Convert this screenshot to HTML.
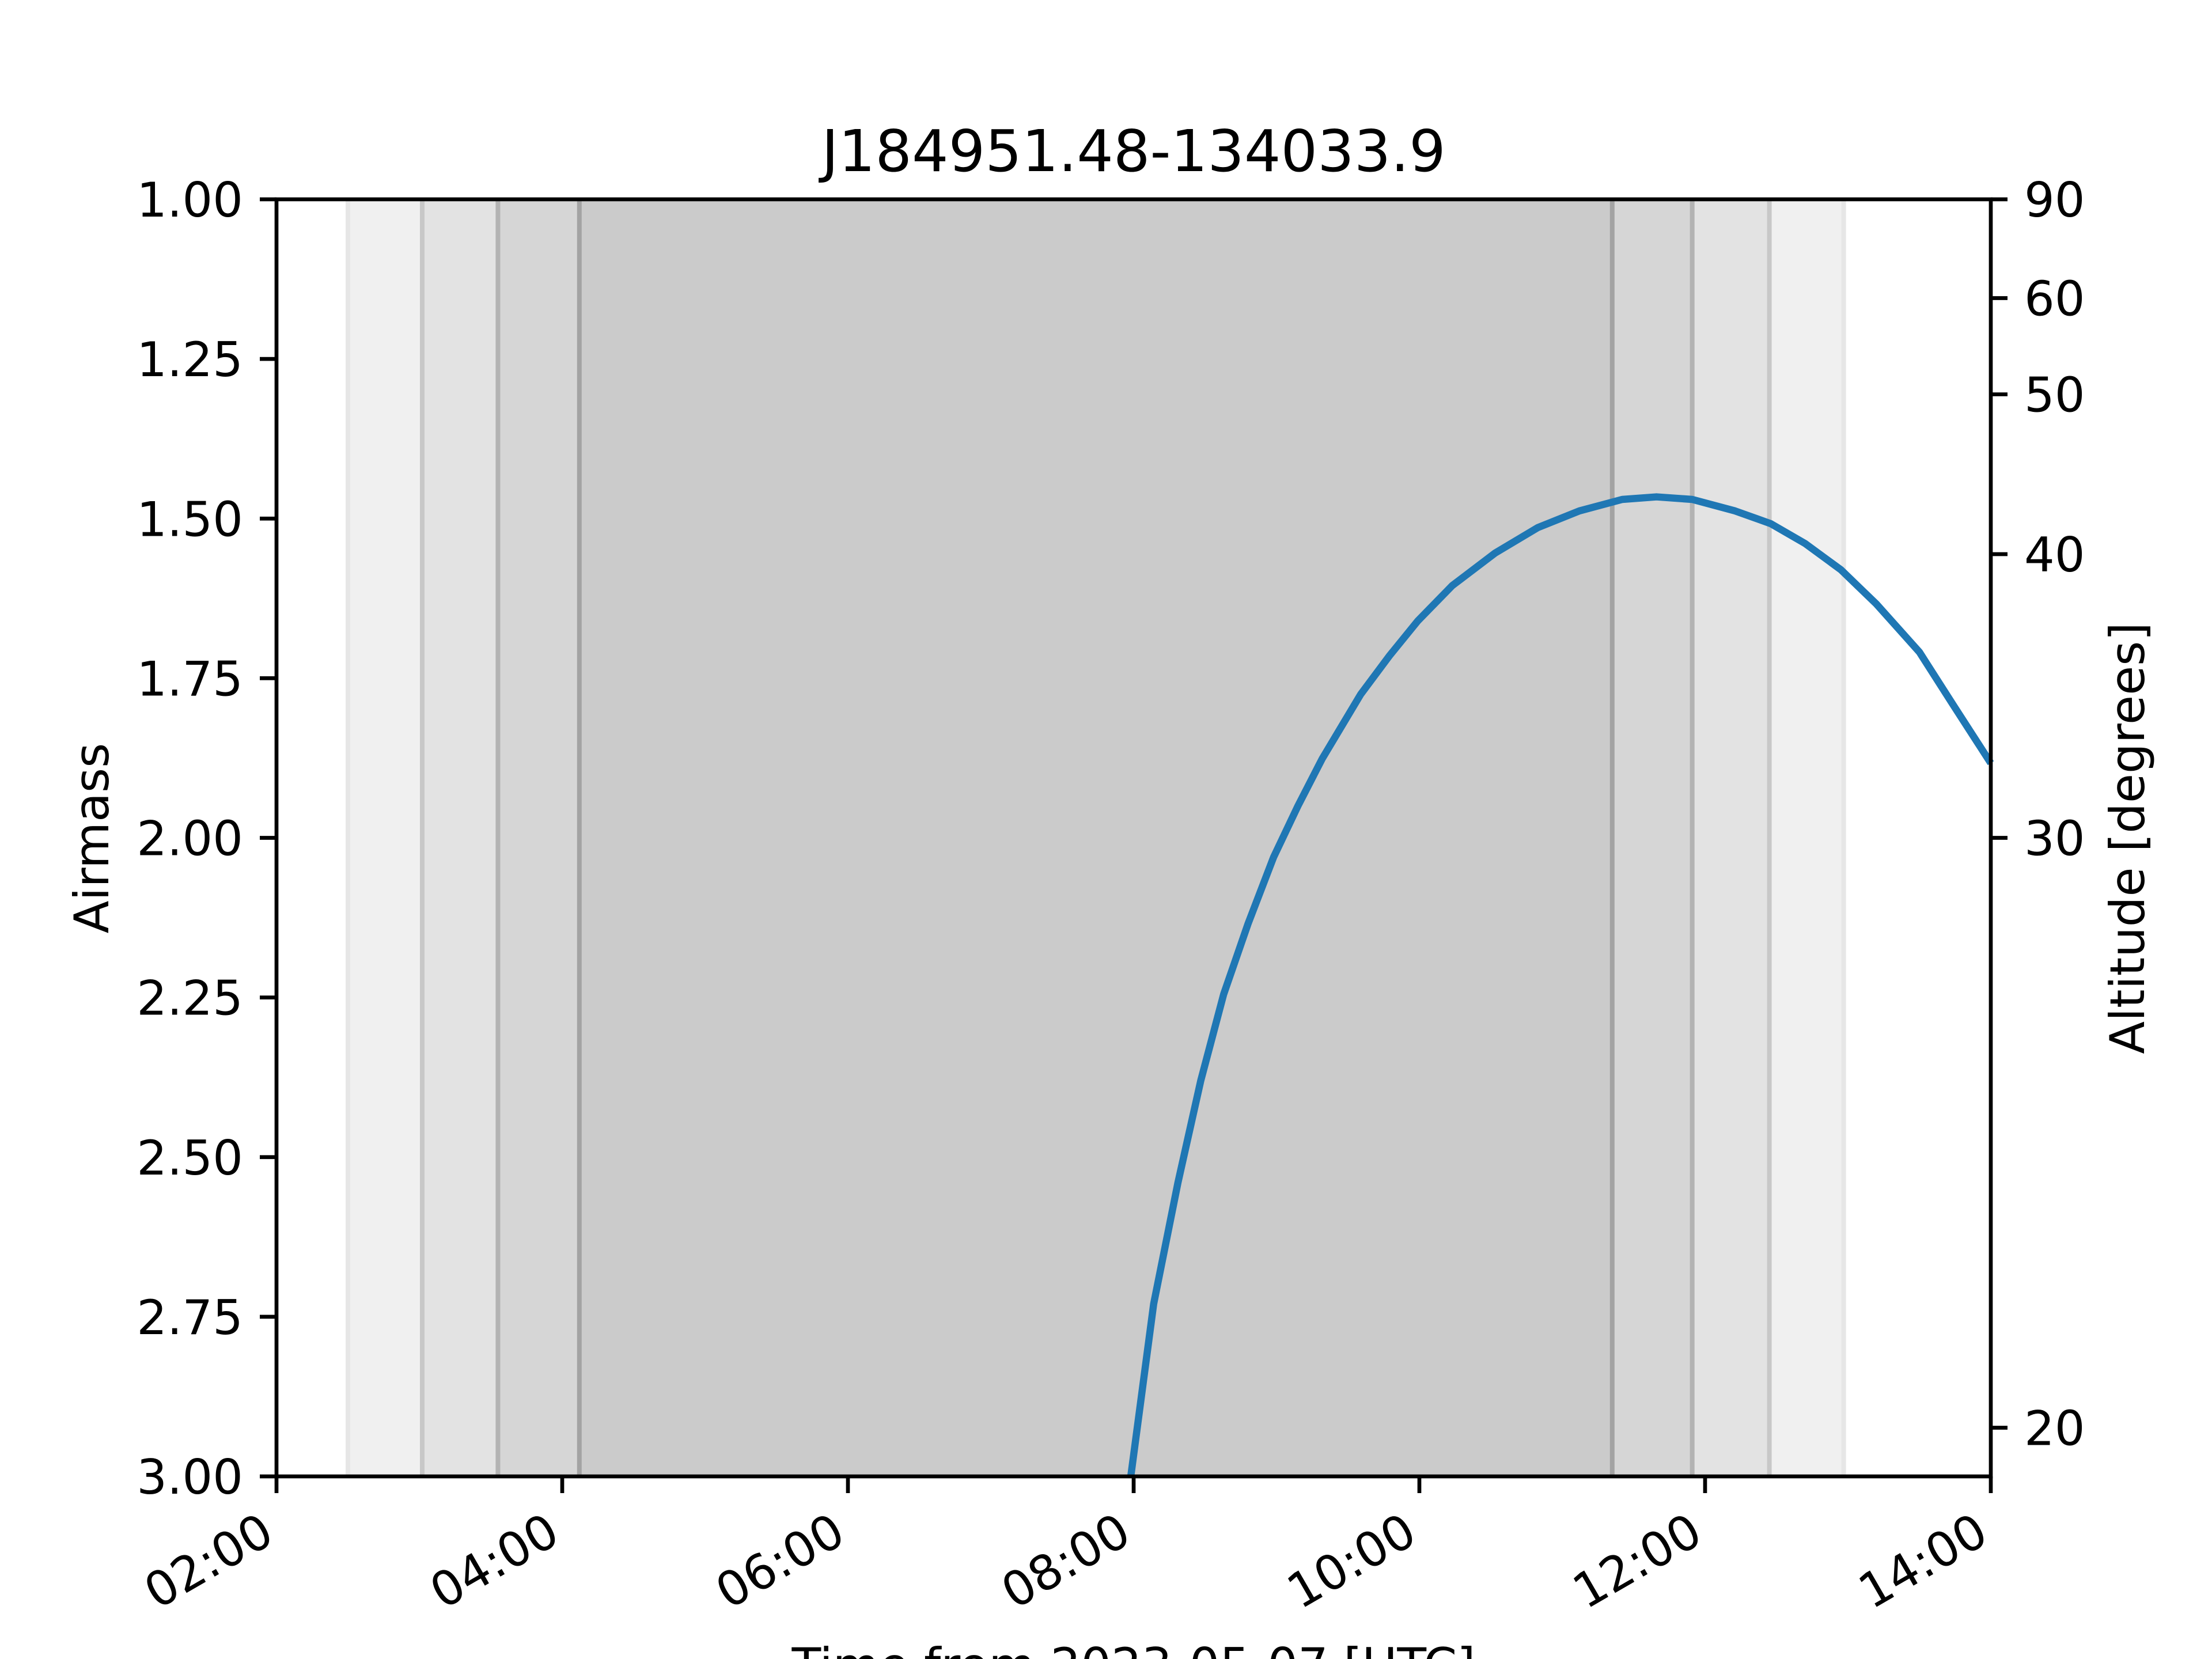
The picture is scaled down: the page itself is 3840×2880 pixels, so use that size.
<!DOCTYPE html>
<html><head><meta charset="utf-8"><style>
html,body{margin:0;padding:0;background:#fff;}
svg{display:block;font-family:"DejaVu Sans","Liberation Sans",sans-serif;}
</style></head><body>
<svg id="chart" width="3840" height="2880" viewBox="0 0 3840 2880" xmlns="http://www.w3.org/2000/svg">
<rect width="3840" height="2880" fill="#fff"/>
<g id="bands"></g>
<g id="series"></g>
<g id="axes"></g>
<text x="1968" y="297" font-size="100" text-anchor="middle">J184951.48-134033.9</text>
<text transform="translate(188,1455) rotate(-90)" font-size="83" text-anchor="middle">Airmass</text>
<text transform="translate(3722,1455) rotate(-90)" font-size="83" text-anchor="middle">Altitude [degrees]</text>
<text x="1968" y="2920" font-size="83" text-anchor="middle">Time from 2023-05-07 [UTC]</text>
</svg>
<script>
const hours = [7.98,8.14,8.31,8.47,8.63,8.80,8.98,9.15,9.32,9.59,9.79,9.99,10.23,10.53,10.83,11.12,11.42,11.66,11.91,12.21,12.46,12.70,12.95,13.20,13.50,13.74,14.0];
const airmass = [3.00,2.73,2.54,2.38,2.245,2.135,2.03,1.95,1.876,1.775,1.715,1.66,1.605,1.554,1.514,1.488,1.47,1.466,1.47,1.488,1.508,1.539,1.58,1.634,1.709,1.793,1.883];
const bandStarts = [2.50,3.02,3.55,4.12];
const bandEnds = [12.97,12.45,11.91,11.35];
const bandFills = ["#f0f0f0","#e3e3e3","#d6d6d6","#cbcbcb"];
const bandEdges = ["#e6e6e6","#c8c8c8","#b3b3b3","#a3a3a3"];
const xTicks = [2,4,6,8,10,12,14];
const xTickLabels = ["02:00","04:00","06:00","08:00","10:00","12:00","14:00"];
const yTicks = [1.0,1.25,1.5,1.75,2.0,2.25,2.5,2.75,3.0];
const yTickLabels = ["1.00","1.25","1.50","1.75","2.00","2.25","2.50","2.75","3.00"];
const altTicks = [90,60,50,40,30,20];

const L=480,R=3456,T=346,B=2563;
const xs = h => L + (h-2)/(14-2)*(R-L);
const ys = a => T + (a-1)/(3-1)*(B-T);
const NS="http://www.w3.org/2000/svg";
function mk(tag,attrs,parent){const e=document.createElementNS(NS,tag);for(const k in attrs)e.setAttribute(k,attrs[k]);parent.appendChild(e);return e;}

const bands=document.getElementById('bands');
for(let i=0;i<bandStarts.length;i++){
  const r=mk('rect',{x:xs(bandStarts[i]),y:T,width:xs(bandEnds[i])-xs(bandStarts[i]),height:B-T,fill:bandFills[i]},bands);
  
  
  [bandStarts[i],bandEnds[i]].forEach(h=>{
    const l=mk('line',{x1:xs(h),x2:xs(h),y1:T,y2:B,stroke:bandEdges[i],'stroke-width':8},bands);
    
    
  });
}
const series=document.getElementById('series');
const p=mk('polyline',{points:hours.map((h,i)=>xs(h)+','+ys(airmass[i])).join(' '),fill:'none',stroke:'#1f77b4','stroke-width':12.5,'stroke-linejoin':'round'},series);



const ax=document.getElementById('axes');
const fr=mk('rect',{x:L,y:T,width:R-L,height:B-T,fill:'none',stroke:'#000','stroke-width':6.7},ax);


xTicks.forEach((t,i)=>{
  const x=xs(t);
  const tk=mk('line',{x1:x,x2:x,y1:B,y2:B+29,stroke:'#000','stroke-width':6.7},ax);
  
  
  const y=2621+54;
  const tx=mk('text',{x:x,y:y,'font-size':83,'text-anchor':'end',transform:`rotate(-30 ${x} ${y})`},ax);
  tx.textContent=xTickLabels[i];
  
  
});
yTicks.forEach((t,i)=>{
  const y=ys(t);
  const tk=mk('line',{x1:L-29,x2:L,y1:y,y2:y,stroke:'#000','stroke-width':6.7},ax);
  
  
  const tx=mk('text',{x:L-58,y:y+30,'font-size':83,'text-anchor':'end'},ax);
  tx.textContent=yTickLabels[i];
  
  
});
altTicks.forEach(a=>{
  const y=ys(1/Math.sin(a*Math.PI/180));
  const tk=mk('line',{x1:R,x2:R+29,y1:y,y2:y,stroke:'#000','stroke-width':6.7},ax);
  
  
  const tx=mk('text',{x:R+58,y:y+30,'font-size':83},ax);
  tx.textContent=String(a);
  
  
});
</script>
</body></html>
